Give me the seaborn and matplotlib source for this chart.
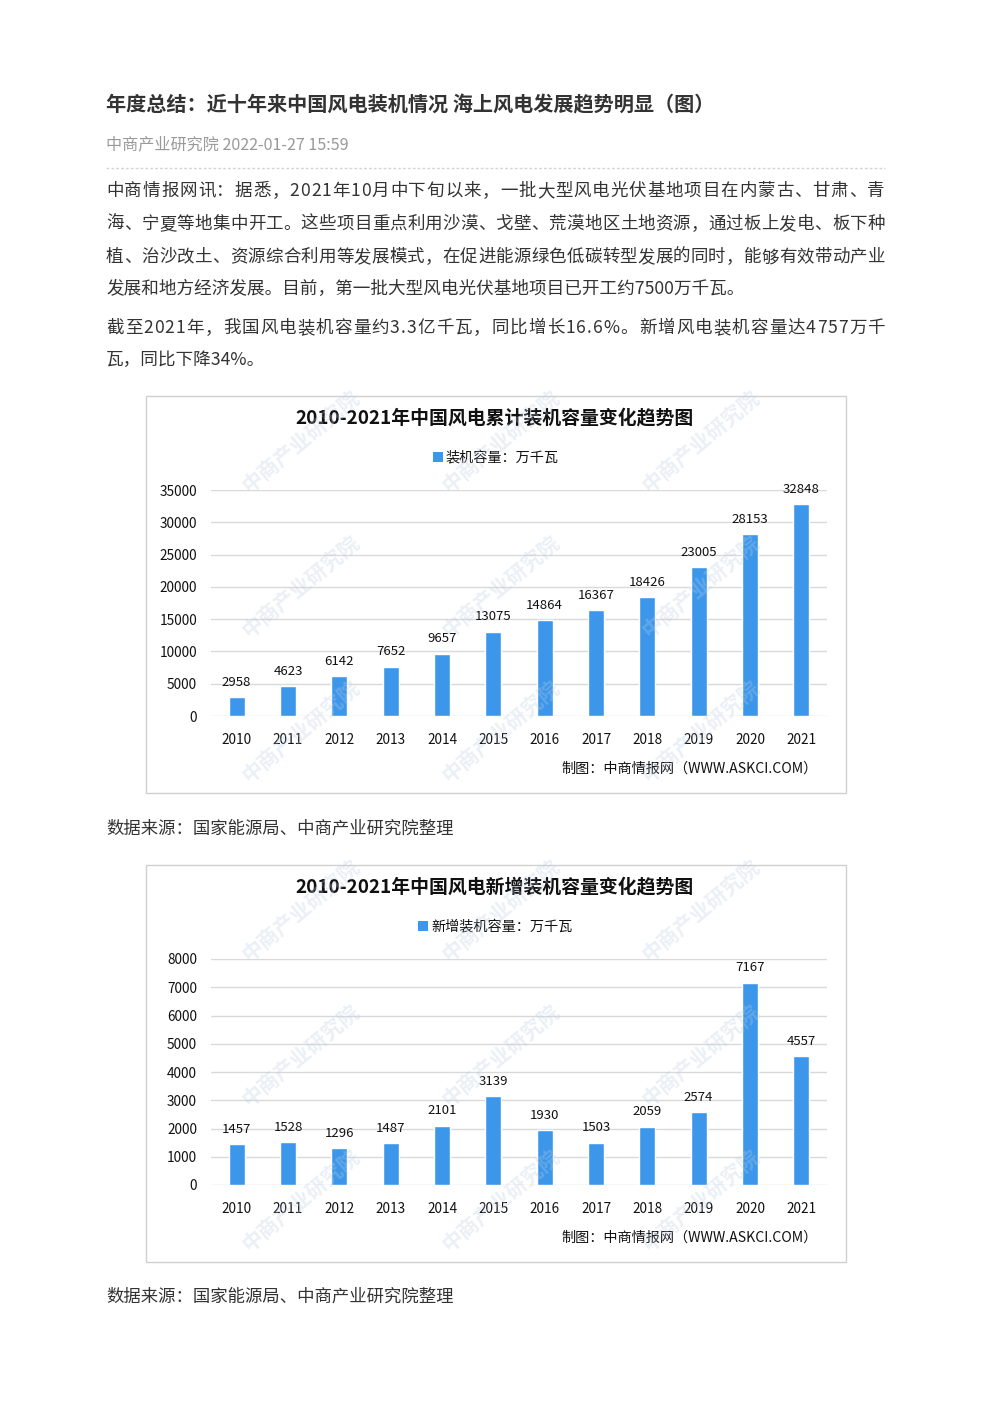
import numpy as np
import pandas as pd
import seaborn as sns
import matplotlib.pyplot as plt
from matplotlib.patches import Rectangle

# data
years = ['2010', '2011', '2012', '2013', '2014', '2015', '2016', '2017', '2018', '2019', '2020', '2021']
cum_capacity = [2958, 4623, 6142, 7652, 9657, 13075, 14864, 16367, 18426, 23005, 28153, 32848]
new_capacity = [1457, 1528, 1296, 1487, 2101, 3139, 1930, 1503, 2059, 2574, 7167, 4557]

page_title = '年度总结：近十年来中国风电装机情况 海上风电发展趋势明显（图）'
page_meta = '中商产业研究院 2022-01-27 15:59'
para_lines = [
    '中商情报网讯：据悉，2021年10月中下旬以来，一批大型风电光伏基地项目在内蒙古、甘肃、青',
    '海、宁夏等地集中开工。这些项目重点利用沙漠、戈壁、荒漠地区土地资源，通过板上发电、板下种',
    '植、治沙改土、资源综合利用等发展模式，在促进能源绿色低碳转型发展的同时，能够有效带动产业',
    '发展和地方经济发展。目前，第一批大型风电光伏基地项目已开工约7500万千瓦。',
    '截至2021年，我国风电装机容量约3.3亿千瓦，同比增长16.6%。新增风电装机容量达4757万千',
    '瓦，同比下降34%。',
]
para_y = [191, 224, 257, 289, 328, 360]
para_justify = [True, True, True, False, True, False]
source_text = '数据来源：国家能源局、中商产业研究院整理'

BAR = '#3c97ea'
W, H = 992, 1403

sns.set_style('white')
plt.rcParams['font.family'] = ['Noto Sans CJK SC', 'DejaVu Sans']

fig = plt.figure(figsize=(W / 100, H / 100), dpi=100)


def fx(x):
    return x / W


def fy(y):
    return 1 - y / H


def px_axes(x0, y0, x1, y1):
    return fig.add_axes([fx(x0), fy(y1), (x1 - x0) / W, (y1 - y0) / H])


def justify_line(s, x0, x1, y, **kw):
    r = fig.canvas.get_renderer()
    items = []
    for ch in s:
        t = fig.text(0, 0, ch, ha='left', va='center', **kw)
        items.append((t, t.get_window_extent(r).width))
    gap = (x1 - x0 - sum(w for _, w in items)) / (len(items) - 1)
    x = x0
    for t, w in items:
        t.set_position((fx(x), fy(y)))
        x += w + gap


# page header
fig.text(fx(106), fy(105), page_title, fontsize=14.5, fontweight='bold', color='#333333', va='center')
fig.text(fx(106), fy(145), page_meta, fontsize=11.6, color='#999999', va='center')
fig.add_artist(plt.Line2D([fx(106), fx(885)], [fy(168), fy(168)], color='#d5d5d5', lw=1, ls=(0, (2, 1.5))))

for line, y, just in zip(para_lines, para_y, para_justify):
    if just:
        justify_line(line, 106, 885, y, fontsize=12.6, color='#333333')
    else:
        fig.text(fx(106), fy(y), line, fontsize=12.7, color='#333333', va='center')


def watermarks(y_top):
    for dy in [45, 190, 335]:
        for x in [300, 500, 700]:
            fig.text(fx(x), fy(y_top + dy), '中商产业研究院', fontsize=15, color='#b9cde3',
                     alpha=0.3, rotation=40, ha='center', va='center', fontweight='bold')


def draw_chart(box_top, values, ymax, ystep, title, legend):
    box_bottom = box_top + 397
    fig.add_artist(Rectangle((fx(146), fy(box_bottom)), 700 / W, 397 / H, transform=fig.transFigure,
                             facecolor='none', edgecolor='#d0d0d0', lw=1))
    fig.text(fx(495), fy(box_top + 22), title, fontsize=13.6, fontweight='bold', color='#111111',
             ha='center', va='center')
    leg = fig.text(fx(502), fy(box_top + 61), legend, fontsize=10.2, color='#111111', ha='center', va='center')
    r = fig.canvas.get_renderer()
    lx0 = leg.get_window_extent(r).x0
    fig.add_artist(Rectangle(((lx0 - 13) / W, fy(box_top + 66)), 10 / W, 10 / H, transform=fig.transFigure,
                             facecolor=BAR, edgecolor='none'))
    fig.text(fx(818), fy(box_top + 373), '制图：中商情报网（WWW.ASKCI.COM）', fontsize=10.2,
             color='#111111', ha='right', va='center')

    ax = px_axes(211, box_top + 94, 827, box_top + 320)
    df = pd.DataFrame({'year': years, 'value': values})
    sns.barplot(data=df, x='year', y='value', color=BAR, saturation=1, width=0.31, ax=ax, zorder=3)
    ax.bar_label(ax.containers[0], padding=6, fontsize=9.5, color='#111111')
    ax.set_ylim(0, ymax)
    ax.set_yticks(np.arange(0, ymax + 1, ystep))
    ax.set_xlim(-0.5, len(years) - 0.5)
    ax.grid(axis='y', color='#d9d9d9', lw=1, zorder=0)
    ax.set_axisbelow(True)
    ax.set_xlabel('')
    ax.set_ylabel('')
    ax.set_facecolor('none')
    sns.despine(ax=ax, left=True, bottom=True)
    ax.tick_params(axis='x', length=0, pad=12, labelsize=9.8, labelcolor='#111111')
    ax.tick_params(axis='y', length=0, pad=10, labelsize=9.8, labelcolor='#111111')
    watermarks(box_top)
    return ax


draw_chart(396, cum_capacity, 35000, 5000,
           '2010-2021年中国风电累计装机容量变化趋势图', '装机容量：万千瓦')
fig.text(fx(106), fy(829), source_text, fontsize=12.5, color='#333333', va='center')

draw_chart(865, new_capacity, 8000, 1000,
           '2010-2021年中国风电新增装机容量变化趋势图', '新增装机容量：万千瓦')
fig.text(fx(106), fy(1297), source_text, fontsize=12.5, color='#333333', va='center')

fig.savefig('out.png', dpi=100, facecolor='white')
